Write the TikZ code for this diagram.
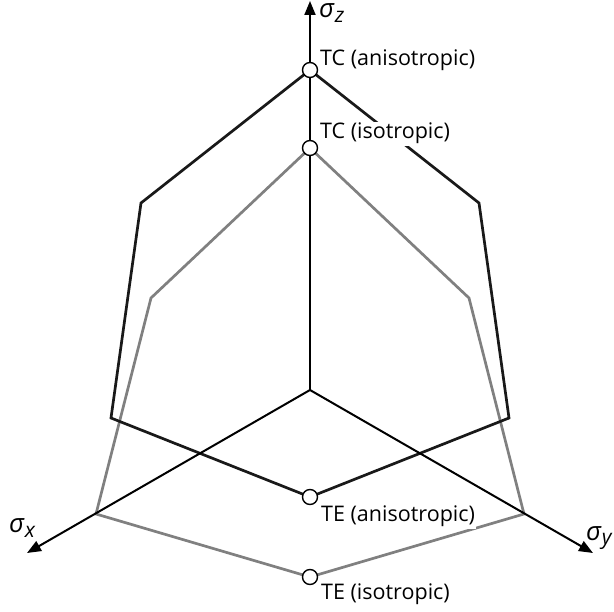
\documentclass[tikz,border=0pt]{standalone}
\usepackage{fontspec}
\setmainfont{Open Sans}
\usetikzlibrary{arrows.meta}
\newcommand{\sgm}[1]{{\fontsize{26}{30}\selectfont\itshape σ}\kern0.5pt\raisebox{-5pt}{\fontsize{21}{24}\selectfont\itshape #1}}
\begin{document}
\begin{tikzpicture}[x=1pt,y=-1pt,
  aniso/.style={draw=black!90,line width=2.7pt,line join=miter},
  iso/.style={draw=black!50,line width=2.7pt,line join=miter},
  axis/.style={draw=black,line width=2pt,-{Triangle[length=14pt,width=11pt]}},
  vtx/.style={circle,draw=black,fill=white,line width=1.4pt,minimum size=15pt,inner sep=0pt},
  lbl/.style={anchor=base west,inner sep=1.5pt,fill=white,font=\fontsize{21.5}{25}\selectfont},
  axlbl/.style={anchor=base west,inner sep=0pt}]
\useasboundingbox (0,0) rectangle (614,612);
% anisotropic (black) hexagon vertices
\coordinate (A1) at (310,70);
\coordinate (A2) at (141,203);
\coordinate (A3) at (111,418);
\coordinate (A4) at (310,497);
\coordinate (A5) at (509,418);
\coordinate (A6) at (479,203);
% isotropic (gray) hexagon vertices
\coordinate (I1) at (310,148);
\coordinate (I2) at (151,298);
\coordinate (I3) at (96,514);
\coordinate (I4) at (310,577);
\coordinate (I5) at (524,514);
\coordinate (I6) at (469,298);
% axes
\coordinate (O) at (310,390);
\coordinate (X) at (27,553);
\coordinate (Y) at (593,553);
\coordinate (Z) at (310,1);
\draw[iso] (I1) -- (I2) -- (I3) -- (I4) -- (I5) -- (I6) -- cycle;
\draw[aniso] (A1) -- (A2) -- (A3) -- (A4) -- (A5) -- (A6) -- cycle;
\draw[axis] (O) -- (X);
\draw[axis] (O) -- (Y);
\draw[axis] (O) -- (Z);
\node[vtx] (tca) at (A1) {};
\node[vtx] (tci) at (I1) {};
\node[vtx] (tea) at (A4) {};
\node[vtx] (tei) at (I4) {};
\node[lbl] (ltca) at (318.5,66) {TC (anisotropic)};
\node[lbl] (ltci) at (318.5,139) {TC (isotropic)};
\node[lbl] (ltea) at (319.5,522) {TE (anisotropic)};
\node[lbl] (ltei) at (319.5,600) {TE (isotropic)};
\node[axlbl] (sz) at (319,18) {\sgm{z}};
\node[axlbl] (sx) at (9,533) {\sgm{x}};
\node[axlbl] (sy) at (586,540) {\sgm{y}};
\end{tikzpicture}
\end{document}
